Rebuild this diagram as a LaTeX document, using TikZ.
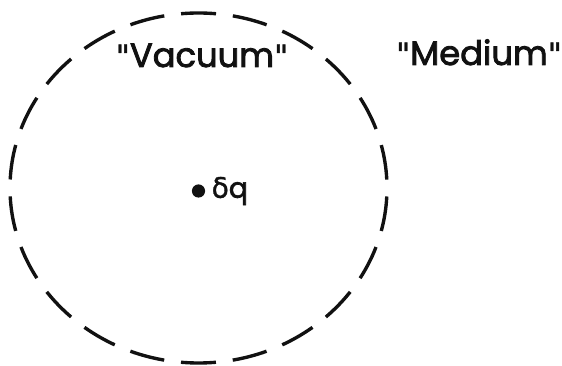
\documentclass[tikz,border=0pt]{standalone}
\usepackage{fontspec}
\setmainfont{Poppins}[FakeBold=2.5]
\newfontfamily\greekfont{DejaVu Sans}[FakeBold=1.2]
\usetikzlibrary{positioning}
\definecolor{ink}{HTML}{111111}
\newcommand{\qmark}{{\greekfont\fontsize{22}{26}\selectfont"}}
\tikzset{
  boundary/.style={draw=ink,line width=2.4pt,
                   dash pattern=on 0.875cm off 0.423cm,dash phase=1.086cm},
  regionlabel/.style={font=\fontsize{24}{28}\selectfont,text=ink,
                      anchor=base,inner sep=0pt},
  chargedot/.style={circle,fill=ink,inner sep=0pt,minimum size=0.33cm},
  chargelabel/.style={font=\fontsize{20}{24}\selectfont,text=ink,inner sep=0pt}
}
\begin{document}
\begin{tikzpicture}[x=0.025cm,y=-0.025cm]
  \useasboundingbox (0,0) rectangle (562,366);

  % the dashed boundary of the small region round the charge
  \draw[boundary] (198.5,188) ellipse [x radius=188.5,y radius=175];

  \node[regionlabel] (vacuum) at (202,67) {\qmark Vacuum\qmark};
  \node[regionlabel] (medium) at (479,65) {\qmark Medium\qmark};

  \node[chargedot] (charge) at (198.5,191) {};
  \node[chargelabel,right=0.15cm of charge] (chargename) {{\greekfont δ}q};
\end{tikzpicture}
\end{document}
